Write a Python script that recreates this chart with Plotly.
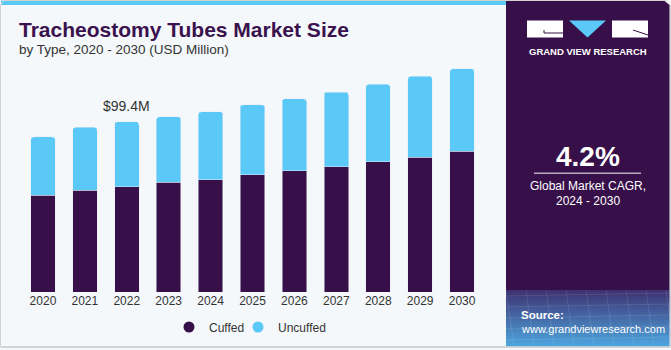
import plotly.graph_objects as go

years = ["2020", "2021", "2022", "2023", "2024", "2025", "2026", "2027", "2028", "2029", "2030"]
cuffed = [56.4, 59.5, 61.3, 64.0, 65.6, 68.3, 70.8, 73.0, 76.1, 78.8, 82.3]
uncuffed = [34.1, 36.6, 38.1, 38.3, 39.6, 40.9, 42.0, 43.7, 45.1, 47.1, 48.0]
highlight_year = "2022"
highlight_label = "$99.4M"
highlight_value = 99.4

C_DARK = "#371049"
C_BLUE = "#5BC9F7"
BG = "#F4F8FB"
TXT = "#333333"

L, R, T, B = 22, 188, 60, 58
FW, FH = 671, 350
W = FW - L - R
H = FH - T - B


def px(x):
    return (x - L) / W


def py(y):
    return (FH - B - y) / H


fig = go.Figure()
fig.add_trace(go.Bar(x=years, y=cuffed, name="Cuffed", marker=dict(color=C_DARK), showlegend=False))
fig.add_trace(go.Bar(x=years, y=uncuffed, name="Uncuffed", marker=dict(color=C_BLUE), showlegend=False))
fig.add_trace(go.Scatter(x=[None], y=[None], mode="markers", name="Cuffed",
                         marker=dict(color=C_DARK, size=11, symbol="circle")))
fig.add_trace(go.Scatter(x=[None], y=[None], mode="markers", name="Uncuffed",
                         marker=dict(color=C_BLUE, size=11, symbol="circle")))
# invisible spacer entry so the last legend label is not clipped
fig.add_trace(go.Scatter(x=[None], y=[None], mode="markers", name=" ", hoverinfo="skip",
                         marker=dict(color="rgba(0,0,0,0)", size=1)))

shapes = []


def rect(x0, y0, x1, y1, color, line=None):
    d = dict(type="rect", xref="paper", yref="paper", x0=px(x0), x1=px(x1), y0=py(y0), y1=py(y1),
             fillcolor=color, line=dict(width=0), layer="below")
    if line:
        d["line"] = line
    shapes.append(d)


def path(points, color=None, line=None, layer="above", close=True):
    p = "M " + " L ".join(f"{px(x)},{py(y)}" for x, y in points)
    if close:
        p += " Z"
    d = dict(type="path", xref="paper", yref="paper", path=p, layer=layer,
             line=line if line else dict(width=0))
    if color:
        d["fillcolor"] = color
    shapes.append(d)


# top strip
path([(1, 0.5), (506, 0.5), (506, 5), (1, 5)], color=C_BLUE, layer="below")
# right panel
path([(506, 0.5), (664, 0.5), (669.5, 5), (669.5, 290), (506, 290)], color=C_DARK, layer="below")

# source gradient box
top_c = (0x3E, 0x33, 0x72)
bot_c = (0x4D, 0xA3, 0xDD)
n = 28
y0 = 290.0
y1 = 346.0
for i in range(n):
    t = i / (n - 1)
    c = tuple(int(round(top_c[k] + (bot_c[k] - top_c[k]) * t)) for k in range(3))
    ya = y0 + (y1 - y0) * i / n
    yb = y0 + (y1 - y0) * (i + 1) / n + 0.5
    rect(506, ya, 669.5, yb, "rgb(%d,%d,%d)" % c)

# faint grid texture in source box
for k in range(9):
    xx = 506 + k * 20
    path([(xx, 290), (xx + 8, 346)], line=dict(color="rgba(255,255,255,0.10)", width=1), close=False)
for k in range(5):
    yy = 296 + k * 11
    path([(506, yy), (669.5, yy - 3)], line=dict(color="rgba(255,255,255,0.10)", width=1), close=False)

# logo
rect(527, 20.5, 563, 37.5, "white")
path([(544, 30), (544, 33), (563, 33)], line=dict(color=C_DARK, width=1), close=False)
path([(569, 20.5), (606, 20.5), (587.5, 37.5)], color=C_BLUE)
rect(612, 20.5, 648, 37.5, "white")
path([(633, 30), (648, 35)], line=dict(color=C_DARK, width=1), close=False)

# CAGR separator line
path([(534, 173.3), (641, 173.3)], line=dict(color="#B9A9C6", width=1.5), close=False)

# outer border
path([(0.5, 346.5), (0.5, 5), (4, 0.5), (666, 0.5), (670.5, 5), (670.5, 346.5)],
     line=dict(color="#D3D3D3", width=1), layer="above", close=False)
path([(0.5, 347), (670.5, 347)], line=dict(color="#C8C8C8", width=1.5), close=False)

FONT = "Liberation Sans, Arial"
annotations = [
    dict(text="<b>Tracheostomy Tubes Market Size</b>", x=px(17), y=py(29), xanchor="left", yanchor="middle",
         font=dict(family=FONT, size=21, color="#3A124E")),
    dict(text="by Type, 2020 - 2030 (USD Million)", x=px(17), y=py(50), xanchor="left", yanchor="middle",
         font=dict(family=FONT, size=13.5, color=TXT)),
    dict(text="<b>GRAND VIEW RESEARCH</b>", x=px(588), y=py(51), xanchor="center", yanchor="middle",
         font=dict(family=FONT, size=9.5, color="white")),
    dict(text="<b>4.2%</b>", x=px(588), y=py(156), xanchor="center", yanchor="middle",
         font=dict(family=FONT, size=28, color="white")),
    dict(text="Global Market CAGR,", x=px(588), y=py(186), xanchor="center", yanchor="middle",
         font=dict(family=FONT, size=12, color="white")),
    dict(text="2024 - 2030", x=px(588), y=py(201), xanchor="center", yanchor="middle",
         font=dict(family=FONT, size=12, color="white")),
    dict(text="<b>Source:</b>", x=px(519), y=py(315), xanchor="left", yanchor="middle",
         font=dict(family=FONT, size=11.5, color="white")),
    dict(text="www.grandviewresearch.com", x=px(519), y=py(329), xanchor="left", yanchor="middle",
         font=dict(family=FONT, size=11, color="white")),
    dict(text=highlight_label, x=years.index(highlight_year), y=highlight_value, xref="x", yref="y",
         xanchor="center", yanchor="bottom", yshift=6,
         font=dict(family=FONT, size=14, color=TXT)),
]
for a in annotations:
    a.setdefault("xref", "paper")
    a.setdefault("yref", "paper")
    a["showarrow"] = False

ytop = 0.5837 * H

fig.update_layout(
    width=FW, height=FH,
    margin=dict(l=L, r=R, t=T, b=B, pad=0, autoexpand=False),
    paper_bgcolor=BG, plot_bgcolor=BG,
    barmode="stack", bargap=0.415, barcornerradius=3,
    shapes=shapes, annotations=annotations,
    showlegend=True,
    legend=dict(orientation="h", x=px(169), y=py(327), xanchor="left", yanchor="middle",
                traceorder="normal", entrywidth=24, entrywidthmode="pixels",
                font=dict(family=FONT, size=12, color=TXT),
                bgcolor="rgba(0,0,0,0)", itemclick=False),
    xaxis=dict(type="category", range=[-0.5, 10.5], showgrid=False, zeroline=False, showline=False,
               ticks="", tickfont=dict(family=FONT, size=12, color=TXT), fixedrange=True),
    yaxis=dict(range=[0, ytop], visible=False, fixedrange=True),
)

fig.write_html("out.html", config={"displayModeBar": False})
